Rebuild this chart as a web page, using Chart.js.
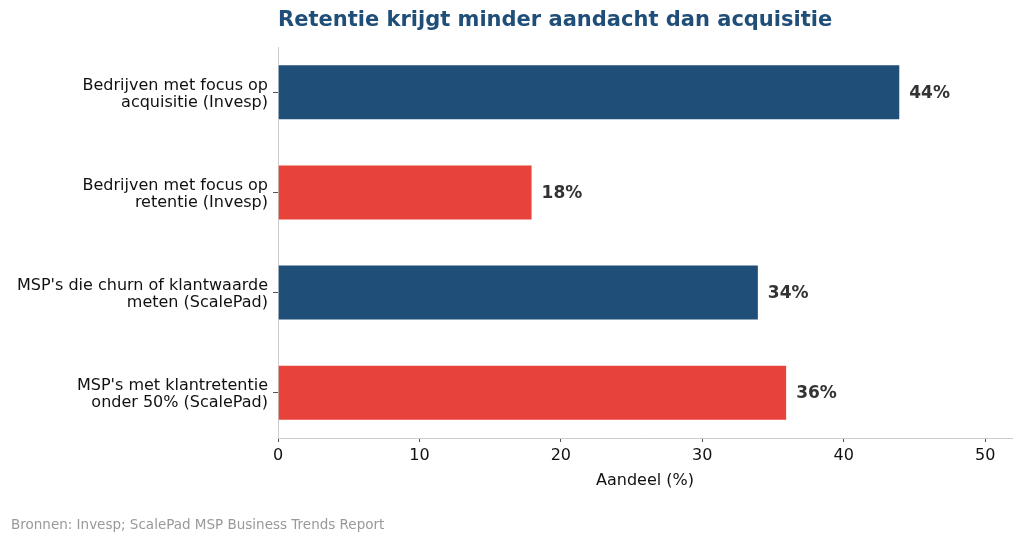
<!DOCTYPE html>
<html>
<head>
<meta charset="utf-8">
<script src="https://cdn.jsdelivr.net/npm/chart.js@4"></script>
<style>
  html, body { margin: 0; padding: 0; background: #fff; }
  #wrap { width: 1024px; height: 543px; }
</style>
</head>
<body>
<div id="wrap"><canvas id="chart"></canvas></div>
<script>
const categories = [
    ["Bedrijven met focus op", "acquisitie (Invesp)"],
    ["Bedrijven met focus op", "retentie (Invesp)"],
    ["MSP's die churn of klantwaarde", "meten (ScalePad)"],
    ["MSP's met klantretentie", "onder 50% (ScalePad)"],
];
const values = [44, 18, 34, 36];
const barColors = ["#1f4e79", "#e8433b", "#1f4e79", "#e8433b"];
const xTicks = [0, 10, 20, 30, 40, 50];

const titleText = "Retentie krijgt minder aandacht dan acquisitie";
const xTitle = "Aandeel (%)";
const sourceText = "Bronnen: Invesp; ScalePad MSP Business Trends Report";

const font = "'DejaVu Sans', sans-serif";

// extra text: title, bar values, axis title, source
const extraText = {
    id: "extraText",
    afterDatasetsDraw(chart) {
        const { ctx, chartArea } = chart;
        const meta = chart.getDatasetMeta(0);
        ctx.save();
        ctx.font = `bold 17px ${font}`;
        ctx.fillStyle = "#333333";
        ctx.textAlign = "left";
        ctx.textBaseline = "middle";
        meta.data.forEach((bar, i) => {
            ctx.fillText(values[i] + "%", bar.x + 9, bar.y + 1);
        });

        ctx.font = `bold 21px ${font}`;
        ctx.fillStyle = "#1f4e79";
        ctx.fillText(titleText, chartArea.left, 21);

        ctx.font = `16px ${font}`;
        ctx.fillStyle = "#111111";
        ctx.textAlign = "center";
        ctx.fillText(xTitle, (chartArea.left + chartArea.right) / 2, 481);

        ctx.font = `13.5px ${font}`;
        ctx.fillStyle = "#999999";
        ctx.textAlign = "left";
        ctx.fillText(sourceText, 11, 525);
        ctx.restore();
    },
};

new Chart(document.getElementById("chart"), {
    type: "bar",
    data: {
        datasets: [
            {
                data: values.map((v, i) => ({ x: v, y: i })),
                backgroundColor: barColors,
                borderColor: "rgba(255,255,255,0.6)",
                borderWidth: 1,
                barPercentage: 0.56,
                categoryPercentage: 1,
            },
        ],
    },
    options: {
        indexAxis: "y",
        responsive: true,
        maintainAspectRatio: false,
        animation: false,
        layout: { padding: { top: 47, right: 12, bottom: 0, left: 0 } },
        plugins: {
            legend: { display: false },
            tooltip: { enabled: false },
        },
        scales: {
            x: {
                type: "linear",
                min: 0,
                max: 51.9,
                afterBuildTicks: (scale) => {
                    scale.ticks = xTicks.map((v) => ({ value: v }));
                },
                afterFit: (scale) => {
                    scale.height = 105;
                },
                grid: {
                    drawOnChartArea: false,
                    drawTicks: true,
                    tickLength: 4,
                    color: "#555555",
                },
                border: { color: "#cccccc", width: 1 },
                ticks: {
                    color: "#111111",
                    font: { family: font, size: 16 },
                    padding: 4,
                },
            },
            y: {
                type: "linear",
                reverse: true,
                offset: false,
                min: -0.4525,
                max: 3.4525,
                afterBuildTicks: (scale) => {
                    scale.ticks = categories.map((c, i) => ({ value: i }));
                },
                afterFit: (scale) => {
                    scale.width = 278;
                },
                grid: {
                    offset: false,
                    drawOnChartArea: false,
                    drawTicks: true,
                    tickLength: 5,
                    color: "#555555",
                },
                border: { color: "#cccccc", width: 1 },
                ticks: {
                    color: "#111111",
                    font: { family: font, size: 16, lineHeight: 1.08 },
                    padding: 5,
                    labelOffset: 2,
                    callback: (v) => categories[v],
                },
            },
        },
    },
    plugins: [extraText],
});
</script>
</body>
</html>
